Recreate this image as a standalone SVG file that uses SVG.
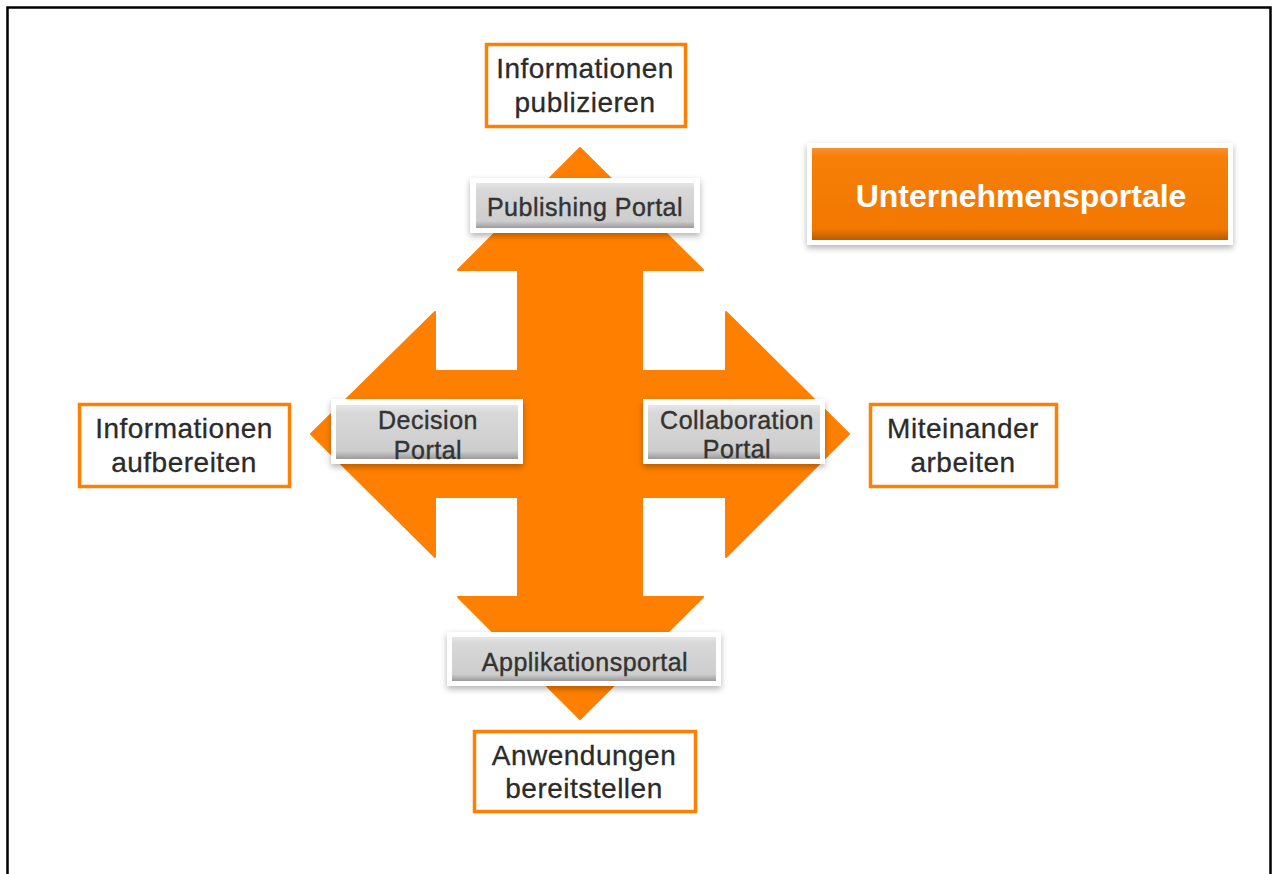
<svg xmlns="http://www.w3.org/2000/svg" width="1272" height="874" viewBox="0 0 1272 874">
<defs>
<style>
.frame{fill:#fff;stroke:#000;stroke-width:2.5}
.arrow{fill:#FF8000;stroke:#FF8000;stroke-width:2;stroke-linejoin:round}
.obox{fill:#fff;stroke:#FF8000;stroke-width:3.5}
.otxt{font-family:"Liberation Sans",Arial,sans-serif;font-size:28px;fill:#2b2b2b;text-anchor:middle;letter-spacing:0.5px;stroke:#2b2b2b;stroke-width:0.3}
.bwhite{fill:#fff;filter:url(#sh)}
.bgrey{fill:url(#greyg)}
.gtxt{font-family:"Liberation Sans",Arial,sans-serif;font-size:25px;fill:#333;text-anchor:middle;letter-spacing:0.5px;stroke:#333;stroke-width:0.4}
.ttxt{font-family:"Liberation Sans",Arial,sans-serif;font-size:32px;font-weight:bold;fill:#fff;text-anchor:middle}
</style>
<linearGradient id="greyg" x1="0" y1="0" x2="0" y2="1">
<stop offset="0" stop-color="#e6e6e6"/>
<stop offset="0.15" stop-color="#d8d8d8"/>
<stop offset="0.85" stop-color="#cdcdcd"/>
<stop offset="1" stop-color="#9a9a9a"/>
</linearGradient>
<linearGradient id="orgg" x1="0" y1="0" x2="0" y2="1">
<stop offset="0" stop-color="#F99030"/>
<stop offset="0.1" stop-color="#F67F08"/>
<stop offset="0.88" stop-color="#F27800"/>
<stop offset="1" stop-color="#B85C00"/>
</linearGradient>
<filter id="sh" x="-10%" y="-20%" width="120%" height="150%">
<feDropShadow dx="0" dy="3" stdDeviation="3" flood-color="#000" flood-opacity="0.3"/>
</filter>
</defs>
<rect class="frame" x="7.5" y="7.5" width="1263" height="880"/>
<g id="connectors">
<path class="arrow" d="M580,148 L703,270 L642,270 L642,371 L726,371 L726,312 L849,434 L726,557 L726,497 L642,497 L642,597 L703,597 L580,719 L458,597 L518,597 L518,497 L435,497 L435,557 L311,434 L435,312 L435,371 L518,371 L518,270 L458,270 Z"/>
</g>
<g id="title">
<rect class="bwhite" x="807" y="143" width="426" height="102"/>
<rect x="812" y="148" width="416" height="92" fill="url(#orgg)"/>
<text class="ttxt" x="1021" y="207">Unternehmensportale</text>
</g>
<g id="publishing-portal">
<rect class="bwhite" x="470" y="178" width="230" height="55"/>
<rect class="bgrey" x="476" y="183" width="218" height="45"/>
<text class="gtxt" x="585" y="216">Publishing Portal</text>
</g>
<g id="decision-portal">
<rect class="bwhite" x="331" y="399" width="192" height="65"/>
<rect class="bgrey" x="336" y="405" width="182" height="54"/>
<text class="gtxt" x="428" y="429">Decision</text>
<text class="gtxt" x="428" y="459">Portal</text>
</g>
<g id="collaboration-portal">
<rect class="bwhite" x="643" y="399" width="182" height="65"/>
<rect class="bgrey" x="648" y="405" width="172" height="54"/>
<text class="gtxt" x="737" y="429">Collaboration</text>
<text class="gtxt" x="737" y="458">Portal</text>
</g>
<g id="applikationsportal">
<rect class="bwhite" x="447" y="632" width="274" height="54"/>
<rect class="bgrey" x="452" y="637" width="264" height="44"/>
<text class="gtxt" x="585" y="671" letter-spacing="0.9">Applikationsportal</text>
</g>
<g id="informationen-publizieren">
<rect class="obox" x="486.5" y="44.5" width="199" height="82"/>
<text class="otxt" x="585" y="78">Informationen</text>
<text class="otxt" x="585" y="112">publizieren</text>
</g>
<g id="informationen-aufbereiten">
<rect class="obox" x="79.5" y="404.5" width="210" height="82"/>
<text class="otxt" x="184" y="438">Informationen</text>
<text class="otxt" x="184" y="472">aufbereiten</text>
</g>
<g id="miteinander-arbeiten">
<rect class="obox" x="870.5" y="404.5" width="186" height="82"/>
<text class="otxt" x="963" y="438">Miteinander</text>
<text class="otxt" x="963" y="472">arbeiten</text>
</g>
<g id="anwendungen-bereitstellen">
<rect class="obox" x="474.5" y="731.5" width="221" height="80"/>
<text class="otxt" x="584" y="765">Anwendungen</text>
<text class="otxt" x="584" y="798">bereitstellen</text>
</g>
</svg>
